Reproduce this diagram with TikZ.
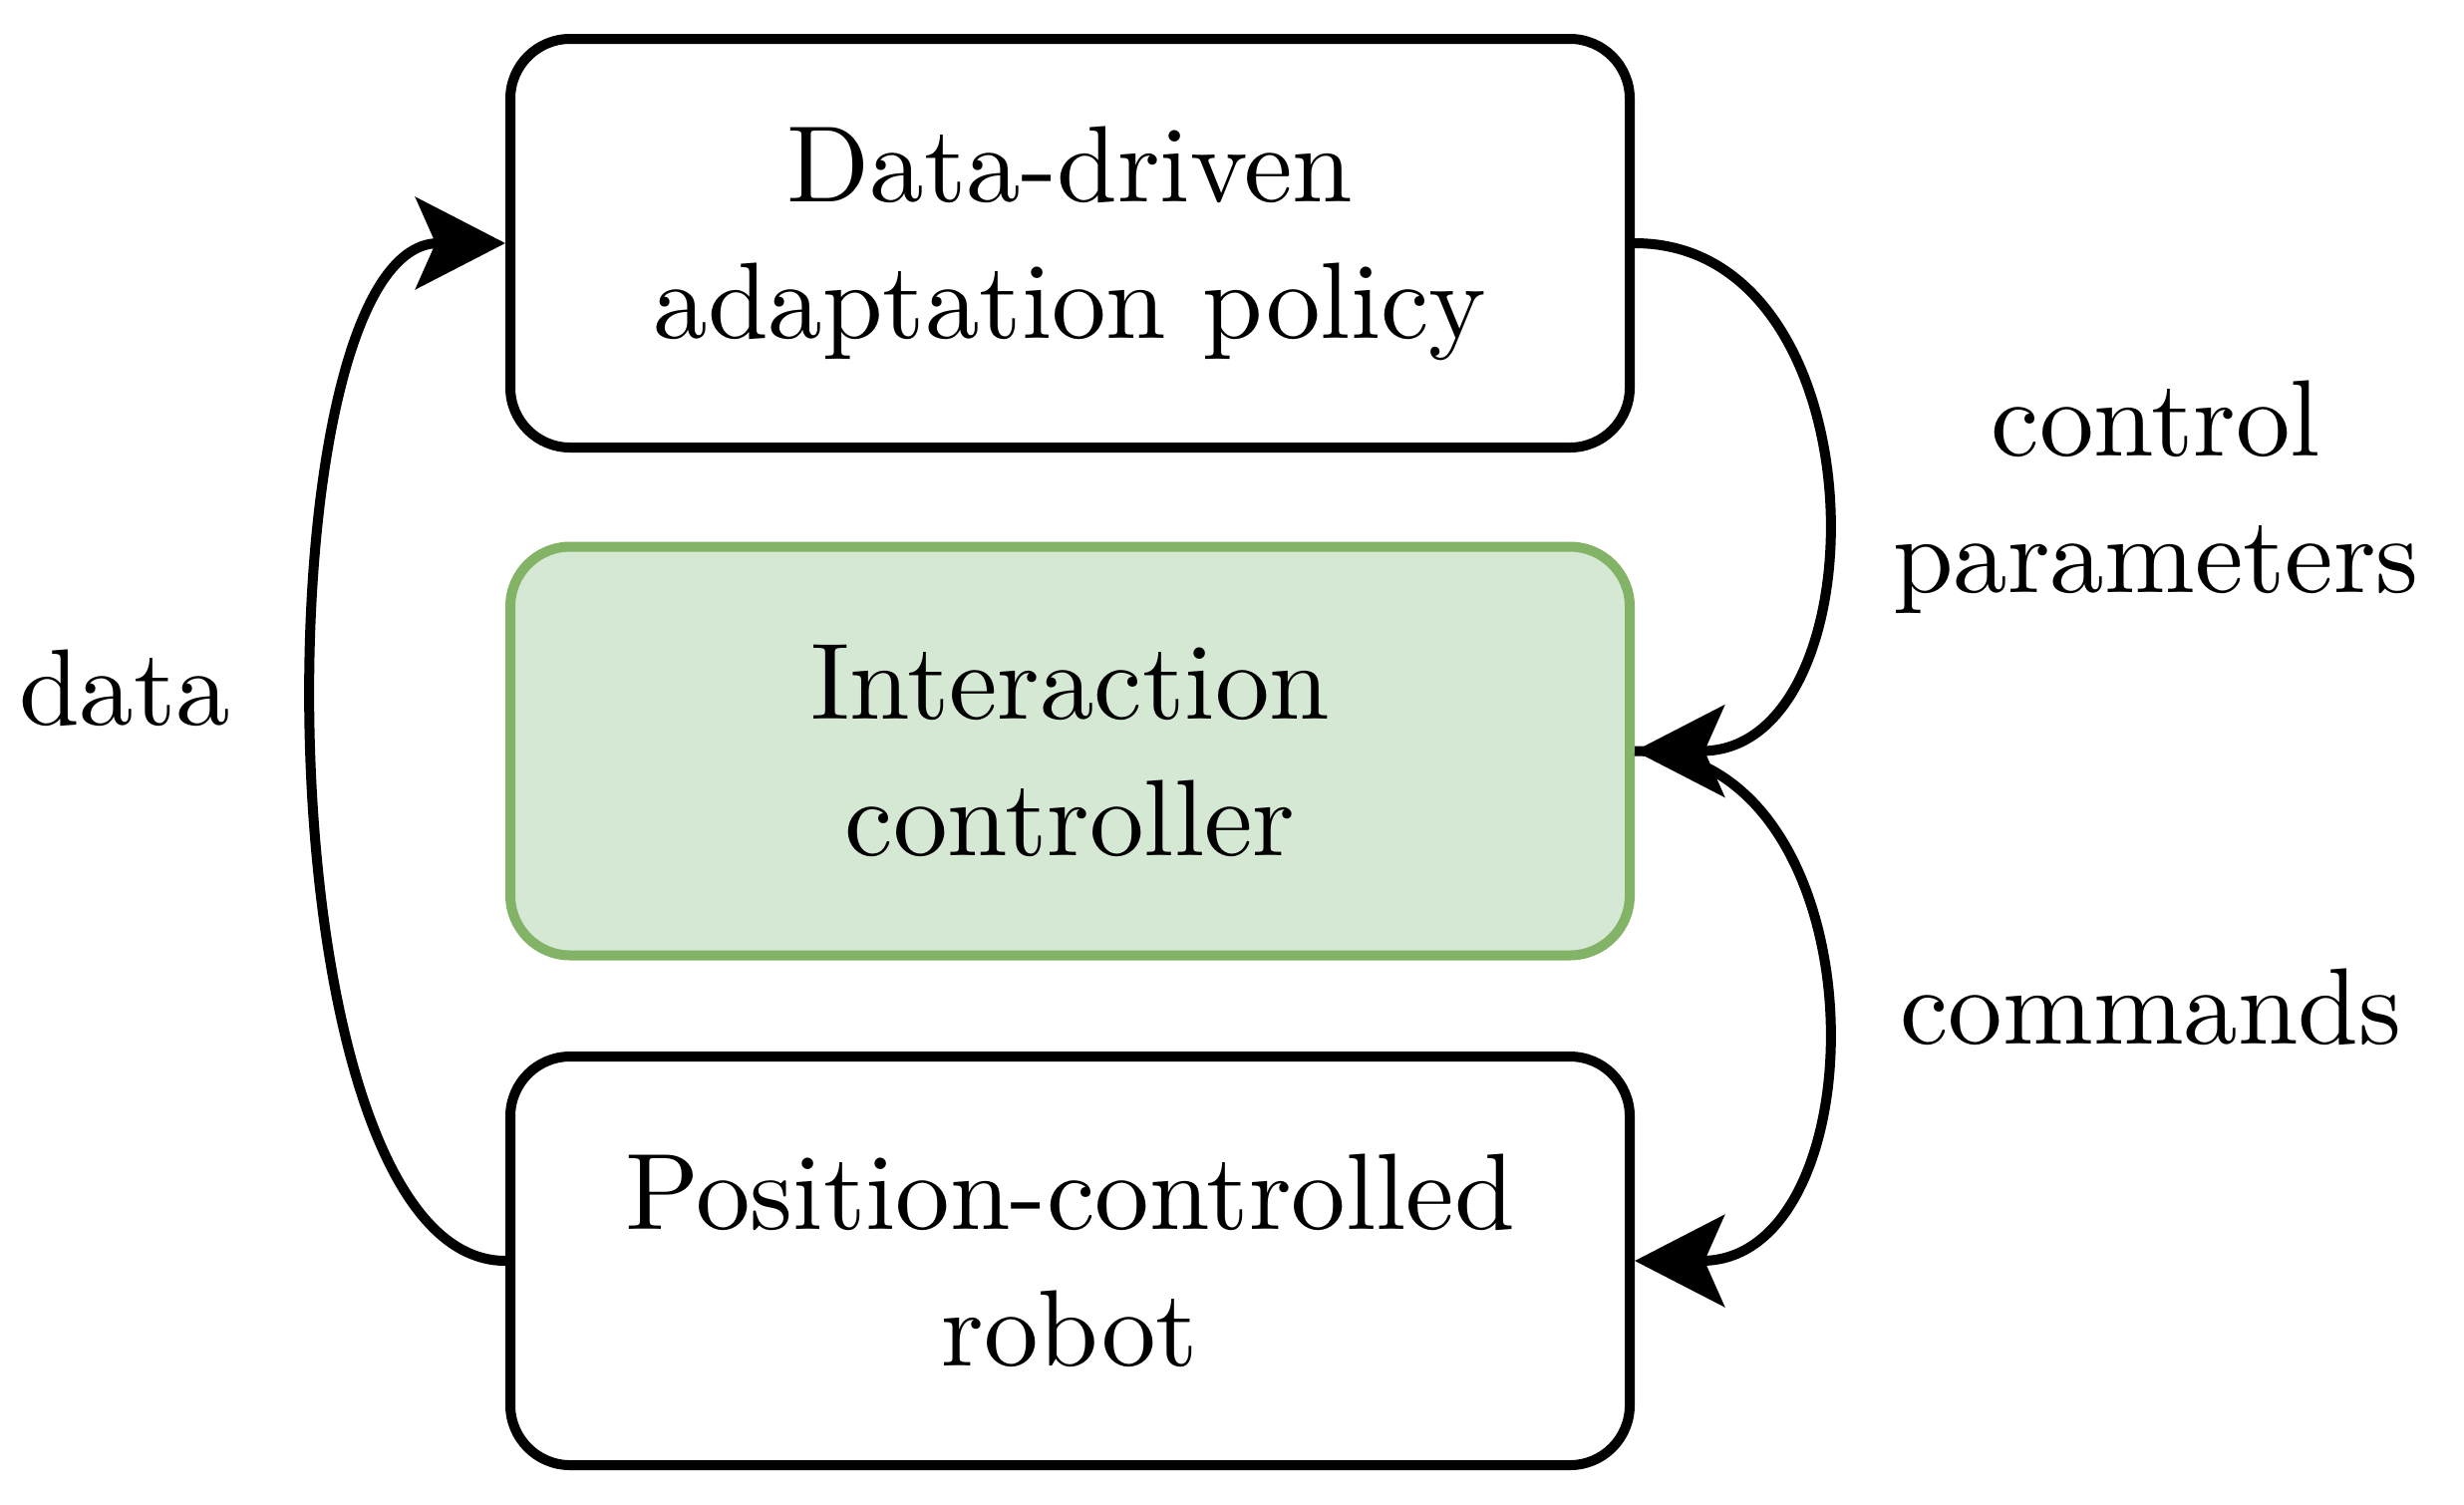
\documentclass[tikz,border=0pt]{standalone}
\usepackage{fontspec}
\setmainfont{lmroman10-regular}[Extension=.otf]
\usetikzlibrary{arrows.meta}
\definecolor{ctrlfill}{HTML}{D5E8D4}
\definecolor{ctrldraw}{HTML}{82B366}
\begin{document}
\begin{tikzpicture}[x=1cm, y=1cm, >={Stealth[length=0.9cm, width=0.92cm, inset=0.2cm]},
        block/.style={draw, rounded corners=0.6cm, line width=0.1cm,
            minimum width=11.23cm, minimum height=4.1cm, align=center,
            font=\fontsize{31}{39}\selectfont},
        lbl/.style={align=center, font=\fontsize{31}{39}\selectfont},
        link/.style={->, line width=0.1cm}]
        \useasboundingbox (0,0) rectangle (24.72,-15.09);

        \node[block] (policy) at (10.735,-2.44) {Data-driven\\adaptation policy};
        \node[block, draw=ctrldraw, fill=ctrlfill] (ctrl) at (10.735,-7.535) {Interaction\\controller};
        \node[block] (robot) at (10.735,-12.65) {Position-controlled\\robot};

        \node[lbl] (data) at (1.25,-6.9) {data};
        \node[lbl] (params) at (21.63,-4.99) {control\\parameters};
        \node[lbl] (cmds) at (21.58,-10.1) {commands};

        \draw [link] (robot.west) .. controls +(-2.5,0) and +(-2.5,0) .. (policy.west);
        \draw [link] (policy.east) .. controls +(2.5,0) and +(2.5,0) .. (ctrl.east);
        \draw [link] (ctrl.east) .. controls +(2.5,0) and +(2.5,0) .. (robot.east);
    \end{tikzpicture}
\end{document}
